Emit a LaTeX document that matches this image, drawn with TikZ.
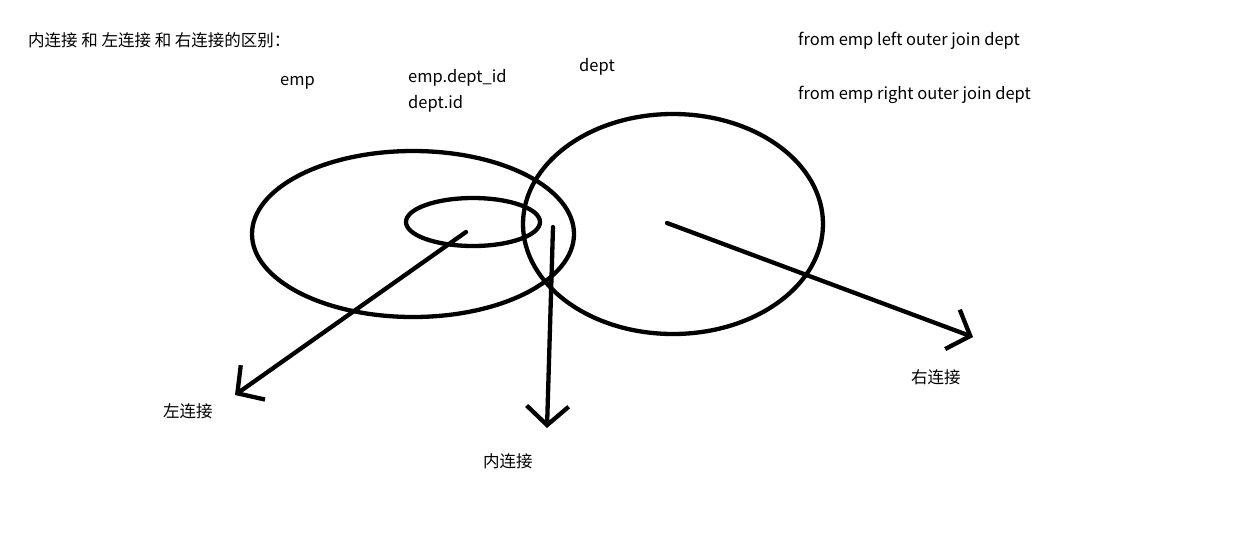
\documentclass[tikz,border=0pt]{standalone}
\usepackage{fontspec}
\setmainfont{Noto Sans CJK SC}
\usetikzlibrary{shapes.geometric, arrows.meta, positioning}
\tikzset{
    ring/.style={draw, ellipse, line width=4.3pt, inner sep=0pt},
    arrow/.style={-{Straight Barb[length=19pt,width=42pt]}, line width=4.3pt, line cap=round},
    label/.style={font=\fontsize{16.5}{20}\selectfont, inner sep=0pt, anchor=west}
}
\begin{document}
\begin{tikzpicture}[x=1pt, y=-1pt]
        \useasboundingbox (0,0) rectangle (1259,542);
        % sets
        \node [ring, minimum width=322pt, minimum height=166pt] (emp) at (413,234) {};
        \node [ring, minimum width=134pt, minimum height=48pt] (key) at (473,222) {};
        \node [ring, minimum width=300pt, minimum height=220pt] (dept) at (673,224) {};
        % texts
        \node [label] (title) at (28,40) {内连接 和 左连接 和 右连接的区别：};
        \node [label] (empname) at (280,83) {emp};
        \node [label] (fk) at (408,78) {emp.dept\_id};
        \node [label] (pk) at (408,104) {dept.id};
        \node [label] (deptname) at (579,67) {dept};
        \node [label] (leftsql) at (798,41) {from emp left outer join dept};
        \node [label] (rightsql) at (798,95) {from emp right outer join dept};
        \node [label] (leftjoin) at (163,411) {左连接};
        \node [label] (innerjoin) at (483,461) {内连接};
        \node [label] (rightjoin) at (911,377) {右连接};
        % arrows
        \coordinate (lfrom) at (466,232);
        \coordinate (lto) at (235,395);
        \coordinate (ifrom) at (553,227);
        \coordinate (ito) at (547,428);
        \coordinate (rfrom) at (667,223);
        \coordinate (rto) at (973,337);
        \draw [arrow] (lfrom) -- (lto);
        \draw [arrow] (ifrom) -- (ito);
        \draw [arrow] (rfrom) -- (rto);
    \end{tikzpicture}
\end{document}
